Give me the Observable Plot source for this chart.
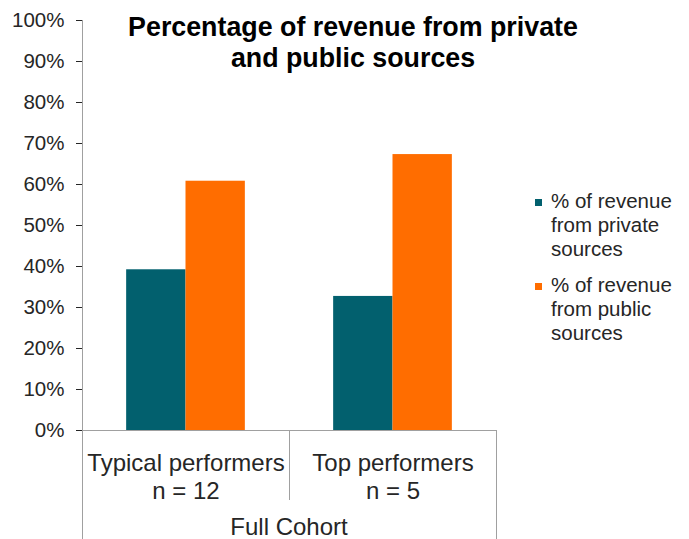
<!DOCTYPE html>
<html>
<head>
<meta charset="utf-8">
<script src="https://cdn.jsdelivr.net/npm/d3@7"></script>
<script src="https://cdn.jsdelivr.net/npm/@observablehq/plot@0.6"></script>
<style>
  html, body { margin: 0; padding: 0; background: #fff; }
  #wrap { position: relative; width: 689px; height: 539px; font-family: "Liberation Sans", Arial, sans-serif; }
  #title { position: absolute; left: 53px; width: 600px; top: 12px; text-align: center;
           font-weight: bold; font-size: 26.8px; line-height: 31px; color: #000; }
  .legend-item { position: absolute; left: 535px; }
  .legend-item .sw { position: absolute; left: 0; top: 10px; width: 7px; height: 7px; }
  .legend-item .lab { position: absolute; left: 16px; top: 0; width: 135px; font-size: 20.5px; line-height: 24px; color: #262626; }
  g[aria-label="y-axis tick"] { stroke: #a0a0a0; }
  g[aria-label="y-axis"] .tick line { stroke: #a0a0a0; }
  g[aria-label="y-axis"] path.domain { display: none; }
</style>
</head>
<body>
<div id="wrap"></div>
<script>
// ---- data ----
const chartTitle = ["Percentage of revenue from private", "and public sources"];
const categories = ["Typical performers", "Top performers"];
const sampleSizes = ["n = 12", "n = 5"];
const groupLabel = "Full Cohort";
const series = ["% of revenue from private sources", "% of revenue from public sources"];
const privateShare = [0.392, 0.327];
const publicShare = [0.608, 0.673];
const seriesColors = ["#02606e", "#ff6d00"];
const yTicks = [0, 0.1, 0.2, 0.3, 0.4, 0.5, 0.6, 0.7, 0.8, 0.9, 1.0];

// ---- tables built from arrays ----
const rows = [];
categories.forEach((c, i) => {
  rows.push({category: c, series: series[0], value: privateShare[i]});
  rows.push({category: c, series: series[1], value: publicShare[i]});
});
const catRows = categories.map((c, i) => ({category: c, label: c + "\n" + sampleSizes[i]}));

const W = 689, H = 539;
const chart = Plot.plot({
  width: W, height: H,
  marginLeft: 81, marginRight: 193, marginTop: 20, marginBottom: 109,
  style: {fontFamily: "'Liberation Sans', Arial, sans-serif", fontSize: "20.5px", color: "#262626", background: "white", overflow: "visible"},
  fx: {domain: categories, padding: 0, axis: null, label: null},
  x: {domain: series, paddingInner: 0, paddingOuter: 0.744, axis: null, round: false},
  y: {domain: [0, 1], ticks: yTicks, tickFormat: d3.format(".0%"), tickSize: 6, tickPadding: 12, label: null},
  color: {domain: series, range: seriesColors},
  marks: [
    Plot.barY(rows, {fx: "category", x: "series", y: "value", fill: "series"}),
    Plot.ruleY([0], {stroke: "#a0a0a0"}),
    Plot.text(catRows, {fx: "category", text: "label", frameAnchor: "bottom", lineAnchor: "top", dy: 21, fontSize: 24, lineHeight: 1.167, fill: "#262626"})
  ]
});

const wrap = document.getElementById("wrap");
wrap.appendChild(chart);

// ---- axis frame lines & group label, positioned from the scales ----
const fx = chart.scale("fx"), y = chart.scale("y");
const left = fx.apply(categories[0]);
const right = fx.apply(categories[categories.length - 1]) + fx.bandwidth;
const y0 = y.apply(0), y1 = y.apply(1);
const svg = d3.select(chart);
const g = svg.append("g").attr("stroke", "#a0a0a0").attr("stroke-width", 1);
g.append("line").attr("x1", left + 0.5).attr("x2", left + 0.5).attr("y1", y1).attr("y2", H);
g.append("line").attr("x1", right + 0.5).attr("x2", right + 0.5).attr("y1", y0).attr("y2", H);
categories.slice(1).forEach(c => {
  const x = fx.apply(c);
  g.append("line").attr("x1", x + 0.5).attr("x2", x + 0.5).attr("y1", y0).attr("y2", y0 + 70);
});
svg.append("text").attr("x", (left + right) / 2).attr("y", H - 4)
  .attr("text-anchor", "middle").attr("font-size", 24).attr("fill", "#262626").text(groupLabel);

// ---- title ----
const t = document.createElement("div");
t.id = "title";
t.innerHTML = chartTitle.join("<br>");
wrap.appendChild(t);

// ---- legend ----
const legendTops = [189, 273];
series.forEach((s, i) => {
  const item = document.createElement("div");
  item.className = "legend-item";
  item.style.top = legendTops[i] + "px";
  const sw = document.createElement("div");
  sw.className = "sw"; sw.style.background = seriesColors[i];
  const lab = document.createElement("div");
  lab.className = "lab"; lab.textContent = s;
  item.appendChild(sw); item.appendChild(lab);
  wrap.appendChild(item);
});
</script>
</body>
</html>
